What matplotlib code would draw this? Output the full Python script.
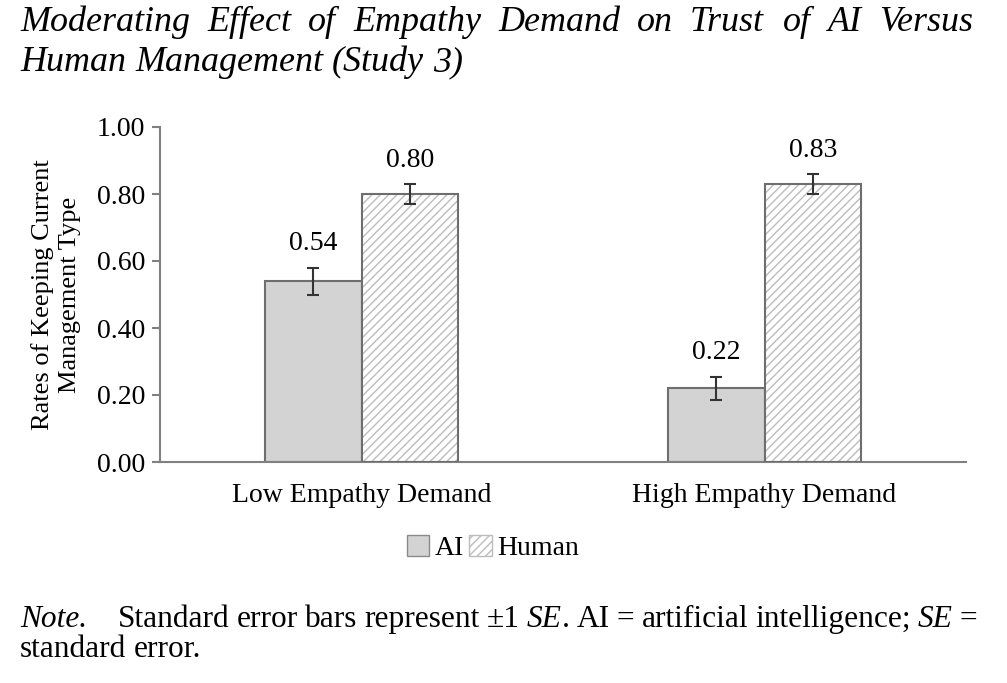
import numpy as np
import matplotlib
matplotlib.use("Agg")
import matplotlib.pyplot as plt
from matplotlib.patches import Patch
from matplotlib.font_manager import FontProperties, findfont
from matplotlib.ft2font import FT2Font

# ---------------- data ----------------
categories = ["Low Empathy Demand", "High Empathy Demand"]
series = ["AI", "Human"]
ai_means = [0.54, 0.22]
human_means = [0.80, 0.83]
ai_se = [0.04, 0.035]
human_se = [0.03, 0.03]
yticks = [0.0, 0.2, 0.4, 0.6, 0.8, 1.0]

title_line1 = "Moderating Effect of Empathy Demand on Trust of AI Versus"
title_line2 = "Human Management (Study 3)"
ylabel = "Rates of Keeping Current\nManagement Type"

plt.rcParams['font.family'] = ['Liberation Serif', 'DejaVu Serif']

W, H = 1007, 683
DPI = 100
fig = plt.figure(figsize=(W / DPI, H / DPI), dpi=DPI)

# ---------------- text helpers ----------------
_fc = {}
def _font(style, size):
    key = (style, size)
    if key not in _fc:
        fp = FontProperties(family='Liberation Serif', style=style, size=size)
        f = FT2Font(findfont(fp))
        f.set_size(size, DPI)
        _fc[key] = f
    return _fc[key]

def adv(ch, style, size):
    g = _font(style, size).load_char(ord(ch))
    return g.linearHoriAdvance / 65536.0

def seg_width(text, style, size):
    return sum(adv(c, style, size) for c in text)

def draw_seg(x, y, text, style, size):
    fig.text(x / W, 1 - y / H, text, style=style, fontsize=size,
             ha='left', va='baseline')
    return x + seg_width(text, style, size)

def word_width(word, size):
    return sum(seg_width(t, s, size) for t, s in word)

def draw_words(words, x0, x1, y, size, justify=True, space=None):
    widths = [word_width(w, size) for w in words]
    if justify and len(words) > 1:
        gap = (x1 - x0 - sum(widths)) / (len(words) - 1)
    else:
        gap = space
    x = x0
    for w, wd in zip(words, widths):
        xx = x
        for t, s in w:
            xx = draw_seg(xx, y, t, s, size)
        x += wd + gap

# ---------------- title ----------------
TS = 20 * 443 / seg_width(title_line2, 'italic', 20)
w1 = [[(w, 'italic')] for w in title_line1.split()]
draw_words(w1, 20, 977, 31, TS, justify=True)
w2 = [[(w, 'italic')] for w in title_line2.split()]
draw_words(w2, 20, None, 71, TS, justify=False, space=adv(' ', 'italic', TS))

# ---------------- chart ----------------
ax = fig.add_axes([160 / W, 1 - 462 / H, 806 / W, 335 / H])
x = np.arange(len(categories))
width = 0.24
edge = '#6e6e6e'

ax.bar(x - width / 2, ai_means, width, color='#d3d3d3', edgecolor=edge, linewidth=1.5, zorder=2)
ax.bar(x + width / 2, human_means, width, color='white', edgecolor='#bcbcbc',
       hatch='////', linewidth=0, zorder=2)
ax.bar(x + width / 2, human_means, width, fill=False, edgecolor=edge, linewidth=1.5, zorder=3)

ekw = dict(fmt='none', ecolor='#333333', elinewidth=1.5, capsize=4.5, capthick=1.5, zorder=4)
ax.errorbar(x - width / 2, ai_means, yerr=ai_se, **ekw)
ax.errorbar(x + width / 2, human_means, yerr=human_se, **ekw)

for xs, ms, ss in [(x - width / 2, ai_means, ai_se), (x + width / 2, human_means, human_se)]:
    for xi, m, s in zip(xs, ms, ss):
        ax.annotate(f"{m:.2f}", (xi, m + s), xytext=(0, 12.5), textcoords='offset points',
                    ha='center', va='baseline', fontsize=20)

ax.set_xlim(-0.5, 1.5)
ax.set_ylim(0, 1)
ax.set_yticks(yticks)
ax.set_yticklabels([f"{t:.2f}" for t in yticks])
ax.set_xticks(x)
ax.set_xticklabels(categories)
ax.tick_params(axis='y', length=5.5, width=1.5, color='#808080', labelsize=20, pad=5)
ax.tick_params(axis='x', length=0, labelsize=20, pad=15)
for s in ['top', 'right']:
    ax.spines[s].set_visible(False)
for s in ['left', 'bottom']:
    ax.spines[s].set_color('#808080')
    ax.spines[s].set_linewidth(1.5)

fig.text(56 / W, 1 - 295 / H, ylabel, rotation=90, ha='center', va='center',
         multialignment='center', fontsize=19, linespacing=1.35)

handles = [Patch(facecolor='#d3d3d3', edgecolor='#8a8a8a'),
           Patch(facecolor='white', edgecolor='#bcbcbc', hatch='////')]
fig.legend(handles, series, loc='center', bbox_to_anchor=(493 / W, 1 - 548 / H), ncol=2,
           frameon=False, fontsize=20, handlelength=0.8, handleheight=0.8,
           handletextpad=0.2, columnspacing=0.2, borderpad=0, borderaxespad=0)

# ---------------- note ----------------
NS = 22 * 183 / seg_width("standard error.", 'normal', 22)
draw_seg(20, 627, "Note.", 'italic', NS)
note_words = [[("Standard", 'normal')], [("error", 'normal')], [("bars", 'normal')],
              [("represent", 'normal')], [("\u00b11", 'normal')],
              [("SE", 'italic'), (".", 'normal')], [("AI", 'normal')], [("=", 'normal')],
              [("artificial", 'normal')], [("intelligence;", 'normal')],
              [("SE", 'italic')], [("=", 'normal')]]
draw_words(note_words, 118, 977, 627, NS, justify=True)
draw_words([[("standard", 'normal')], [("error.", 'normal')]], 20, None, 657, NS,
           justify=False, space=adv(' ', 'normal', NS))

fig.savefig("out.png", dpi=DPI)
